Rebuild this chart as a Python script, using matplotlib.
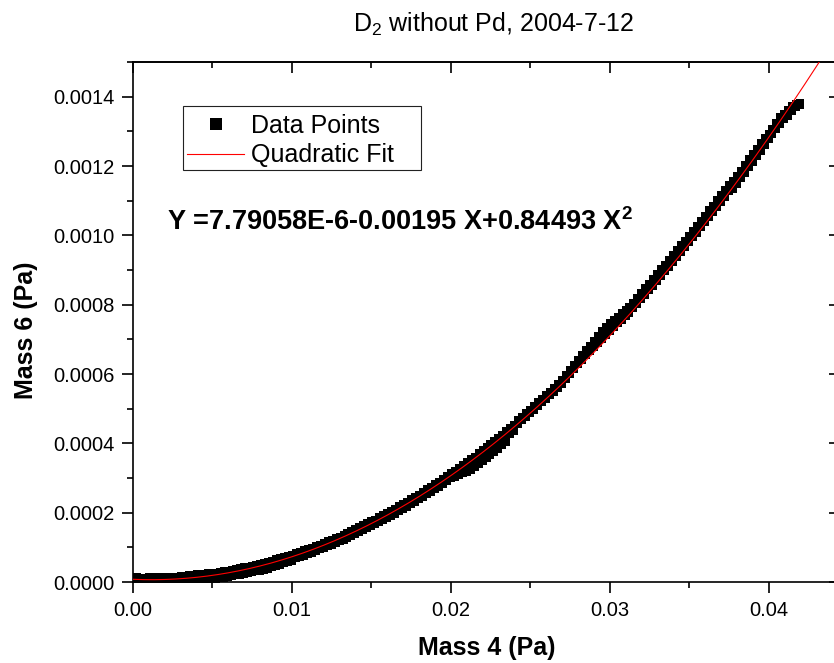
import numpy as np
import matplotlib
matplotlib.use("Agg")
import matplotlib.pyplot as plt
from matplotlib.ticker import MultipleLocator, FormatStrFormatter
from matplotlib.patches import Rectangle

plt.rcParams['font.family'] = ['Liberation Sans', 'DejaVu Sans']
plt.rcParams['mathtext.fontset'] = 'custom'
plt.rcParams['mathtext.rm'] = 'Liberation Sans'
plt.rcParams['mathtext.it'] = 'Liberation Sans'
plt.rcParams['mathtext.bf'] = 'Liberation Sans:bold'

# ---- data (Mass 4 in Pa, Mass 6 in micro-Pa) ----
x_data = [0.00000, 0.00025, 0.00050, 0.00075, 0.00100, 0.00125, 0.00150, 0.00175, 0.00200, 0.00225,
          0.00250, 0.00275, 0.00300, 0.00325, 0.00350, 0.00375, 0.00400, 0.00425, 0.00450, 0.00475,
          0.00500, 0.00525, 0.00550, 0.00575, 0.00600, 0.00625, 0.00650, 0.00675, 0.00700, 0.00725,
          0.00750, 0.00775, 0.00800, 0.00825, 0.00850, 0.00875, 0.00900, 0.00925, 0.00950, 0.00975,
          0.01000, 0.01025, 0.01050, 0.01075, 0.01100, 0.01125, 0.01150, 0.01175, 0.01200, 0.01225,
          0.01250, 0.01275, 0.01300, 0.01325, 0.01350, 0.01375, 0.01400, 0.01425, 0.01450, 0.01475,
          0.01500, 0.01525, 0.01550, 0.01575, 0.01600, 0.01625, 0.01650, 0.01675, 0.01700, 0.01725,
          0.01750, 0.01775, 0.01800, 0.01825, 0.01850, 0.01875, 0.01900, 0.01925, 0.01950, 0.01975,
          0.02000, 0.02025, 0.02050, 0.02075, 0.02100, 0.02125, 0.02150, 0.02175, 0.02200, 0.02225,
          0.02250, 0.02275, 0.02300, 0.02325, 0.02350, 0.02375, 0.02400, 0.02425, 0.02450, 0.02475,
          0.02500, 0.02525, 0.02550, 0.02575, 0.02600, 0.02625, 0.02650, 0.02675, 0.02700, 0.02725,
          0.02750, 0.02775, 0.02800, 0.02825, 0.02850, 0.02875, 0.02900, 0.02925, 0.02950, 0.02975,
          0.03000, 0.03025, 0.03050, 0.03075, 0.03100, 0.03125, 0.03150, 0.03175, 0.03200, 0.03225,
          0.03250, 0.03275, 0.03300, 0.03325, 0.03350, 0.03375, 0.03400, 0.03425, 0.03450, 0.03475,
          0.03500, 0.03525, 0.03550, 0.03575, 0.03600, 0.03625, 0.03650, 0.03675, 0.03700, 0.03725,
          0.03750, 0.03775, 0.03800, 0.03825, 0.03850, 0.03875, 0.03900, 0.03925, 0.03950, 0.03975,
          0.04000, 0.04025, 0.04050, 0.04075, 0.04100, 0.04125, 0.04150, 0.04175, 0.04200]

# upper edge of the scattered data band (micro-Pa)
y_upper_uPa = [12, 13, 12, 12, 13, 12, 13, 13, 14, 14,
               15, 15, 16, 18, 19, 20, 22, 23, 24, 26,
               27, 27, 29, 31, 33, 35, 37, 39, 42, 44,
               47, 49, 52, 55, 58, 61, 65, 68, 72, 75,
               79, 83, 86, 91, 95, 99, 103, 108, 112, 117,
               121, 126, 131, 137, 141, 147, 152, 158, 163, 169,
               175, 180, 187, 193, 199, 205, 212, 218, 225, 231,
               238, 246, 252, 260, 267, 274, 282, 289, 297, 305,
               313, 321, 329, 337, 345, 354, 362, 371, 380, 389,
               398, 407, 416, 425, 435, 444, 454, 467, 477, 487,
               497, 507, 518, 528, 538, 549, 560, 571, 582, 597,
               611, 626, 641, 655, 669, 682, 696, 710, 724, 736,
               746, 756, 764, 775, 785, 794, 805, 820, 833, 847,
               861, 874, 888, 902, 915, 929, 943, 957, 971, 985,
               999, 1013, 1028, 1042, 1057, 1072, 1086, 1101, 1116, 1130,
               1145, 1156, 1172, 1187, 1203, 1219, 1234, 1250, 1266, 1282,
               1292, 1308, 1324, 1340, 1350, 1362, 1372, 1378, 1382]

# lower edge of the scattered data band (micro-Pa)
y_lower_uPa = [4, 3, 3, 4, 3, 4, 4, 3, 4, 4,
               5, 5, 5, 3, 4, 4, 6, 7, 8, 10,
               11, 9, 11, 12, 14, 17, 19, 21, 24, 26,
               29, 31, 32, 35, 38, 42, 46, 50, 54, 57,
               61, 68, 72, 76, 81, 85, 89, 94, 98, 103,
               107, 112, 117, 122, 127, 133, 138, 143, 149, 155,
               161, 166, 172, 179, 185, 191, 197, 204, 211, 217,
               224, 231, 238, 246, 253, 260, 268, 275, 283, 291,
               299, 303, 309, 314, 316, 323, 331, 340, 349, 358,
               367, 376, 385, 394, 404, 426, 436, 457, 467, 477,
               487, 497, 507, 518, 528, 539, 549, 560, 571, 587,
               601, 614, 628, 641, 654, 665, 677, 689, 701, 713,
               724, 735, 746, 757, 767, 777, 790, 803, 816, 829,
               842, 855, 869, 882, 896, 909, 923, 937, 951, 965,
               980, 994, 1008, 1023, 1038, 1052, 1067, 1082, 1097, 1112,
               1128, 1133, 1149, 1164, 1180, 1196, 1212, 1228, 1244, 1260,
               1277, 1292, 1308, 1322, 1335, 1345, 1360, 1370, 1377]

# quadratic fit coefficients as printed on the chart
fit_a0 = 7.79058e-6
fit_a1 = -0.00195
fit_a2 = 0.84493

title_text = "D$_2$ without Pd, 2004-7-12"
x_label = "Mass 4 (Pa)"
y_label = "Mass 6 (Pa)"
eq_text = r"Y =7.79058E-6-0.00195 X+0.84493 X$^\mathbf{2}$"
legend_labels = ["Data Points", "Quadratic Fit"]

W, H = 834, 663
fig = plt.figure(figsize=(W / 100, H / 100), dpi=100)
ax = fig.add_axes([133 / W, 1 - 582 / H, (840 - 133) / W, (582 - 62) / H])

xs = np.array(x_data)
yu = np.array(y_upper_uPa) * 1e-6
yl = np.array(y_lower_uPa) * 1e-6
xx = np.concatenate([xs, xs])
yy = np.concatenate([yu, yl])
pts, = ax.plot(xx, yy, linestyle='none', marker='s', markersize=5.8,
               color='black', markeredgewidth=0, label=legend_labels[0], zorder=2)

xf = np.linspace(0, 0.0445, 400)
yf = fit_a0 + fit_a1 * xf + fit_a2 * xf ** 2
fl, = ax.plot(xf, yf, color='red', linewidth=0.8, label=legend_labels[1], zorder=3)

ax.set_xlim(0, 0.0445)
ax.set_ylim(0, 0.0015)

ax.xaxis.set_major_locator(MultipleLocator(0.01))
ax.xaxis.set_minor_locator(MultipleLocator(0.005))
ax.yaxis.set_major_locator(MultipleLocator(0.0002))
ax.yaxis.set_minor_locator(MultipleLocator(0.0001))
ax.xaxis.set_major_formatter(FormatStrFormatter('%.2f'))
ax.yaxis.set_major_formatter(FormatStrFormatter('%.4f'))

for s in ax.spines.values():
    s.set_linewidth(1.2)

ax.tick_params(axis='both', which='major', direction='out', length=8, width=1.2,
               labelsize=14.5, top=False, right=False)
ax.tick_params(axis='y', which='major', pad=5)
ax.tick_params(axis='x', which='major', pad=6)
ax.tick_params(axis='both', which='minor', direction='out', length=4.5, width=1.2,
               top=False, right=False)

# inward ticks on top/right
axt = ax.secondary_xaxis('top')
axt.xaxis.set_major_locator(MultipleLocator(0.01))
axt.xaxis.set_minor_locator(MultipleLocator(0.005))
axt.tick_params(which='major', direction='in', length=8, width=1.2, labeltop=False)
axt.tick_params(which='minor', direction='in', length=4.5, width=1.2)
axt.spines['top'].set_linewidth(1.2)
axr = ax.secondary_yaxis('right')
axr.yaxis.set_major_locator(MultipleLocator(0.0002))
axr.yaxis.set_minor_locator(MultipleLocator(0.0001))
axr.tick_params(which='major', direction='in', length=8, width=1.2, labelright=False)
axr.tick_params(which='minor', direction='in', length=4.5, width=1.2)

fig.text(487 / W, 1 - 648 / H, x_label, fontsize=18, fontweight='bold',
         ha='center', va='center')
fig.text(26 / W, 1 - 330 / H, y_label, fontsize=18, fontweight='bold',
         ha='center', va='center', rotation=90)

fig.text(494 / W, 1 - 32 / H, title_text, fontsize=18, ha='center', va='baseline')

fig.text(167 / W, 1 - 230 / H, eq_text, fontsize=19.5,
         fontweight='bold', ha='left', va='baseline')

leg = ax.legend(handles=[pts, fl], labels=legend_labels, loc='upper left',
                bbox_to_anchor=(183 / W, 1 - 110 / H), bbox_transform=fig.transFigure,
                fontsize=18, frameon=False, borderaxespad=0,
                handlelength=2.3, handletextpad=0.28, borderpad=0.15,
                labelspacing=0.22, markerscale=1.4)
fig.add_artist(Rectangle((183 / W, 1 - 170 / H), (421 - 183) / W, (170 - 106) / H,
                         transform=fig.transFigure, fill=False,
                         edgecolor='#222222', linewidth=0.8))

fig.savefig('out.png', dpi=100)
